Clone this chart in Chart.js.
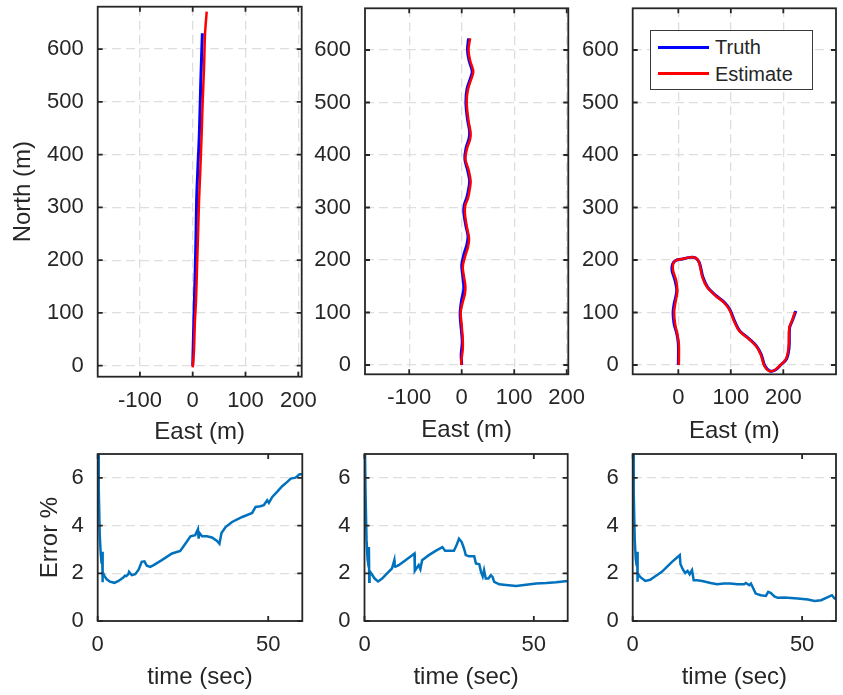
<!DOCTYPE html>
<html>
<head>
<meta charset="utf-8">
<script src="https://cdn.jsdelivr.net/npm/chart.js@4.4.1/dist/chart.umd.min.js"></script>
<style>
  body { margin: 0; width: 843px; height: 695px; background: #fff; position: relative; overflow: hidden;
         font-family: "Liberation Sans", Arial, sans-serif; color: #262626; }
  canvas { position: absolute; }
  #legend { position: absolute; left: 650px; top: 30px; width: 161px; height: 58px;
            border: 1px solid #3a3a3a; background: #fff; z-index: 5; }
  #legend .item { position: absolute; left: 0; height: 26px; width: 160px; font-size: 20px; line-height: 26px; }
  #legend .swatch { position: absolute; left: 7px; width: 51px; }
  #legend .label { position: absolute; left: 64px; top: 0; }
</style>
</head>
<body>
<div id="legend"></div>
<script>
// tick values
const northTicks = [0, 100, 200, 300, 400, 500, 600];
const eastTicks = [-100, 0, 100, 200];
const eastTicksWide = [0, 100, 200];
const timeTicks = [0, 50];
const errorTicks = [0, 2, 4, 6];

// run 1: straight path
const truthEast1 = [0, 1, 3.2, 5, 6.3, 7.6, 10, 12.6, 15.2, 18.3];
const truthNorth1 = [0, 40, 124, 190, 251, 320, 380, 440, 535, 630];
const estEast1 = [0, 2.5, 4, 6.3, 8.8, 10.5, 12, 14, 15.8, 17.5, 19, 21.5, 23.4, 26.5];
const estNorth1 = [-3, 30, 80, 124, 206, 260, 313, 360, 408, 455, 503, 566, 629, 671];

// run 2: weaving path
const truthEast2 = [0, -1, 1, -2, -3, 0, 4, 2, 0, 4, 10, 12, 8, 4, 5, 10, 14, 15, 11, 6, 8, 14, 15, 11, 8, 10, 18, 20, 14, 11, 13];
const truthNorth2 = [0, 20, 45, 80, 100, 125, 145, 170, 190, 210, 230, 245, 265, 290, 305, 320, 340, 352, 372, 392, 412, 432, 445, 468, 500, 525, 550, 560, 580, 600, 622];
const estEast2 = [0, -1, 2, 2, 0, -2, 2, 6, 7, 4, 2, 6, 12, 14, 10, 6, 7, 12, 15, 17, 13, 7, 10, 16, 17, 13, 9.5, 12, 20, 22, 16, 13, 16];
const estNorth2 = [0, 5, 30, 48, 75, 100, 120, 135, 150, 170, 187, 205, 225, 241, 262, 290, 305, 318, 333, 350, 372, 392, 412, 430, 442, 465, 500, 525, 550, 560, 580, 600, 622];

// run 3: loop to the east
const truthEast3 = [0, 0, -3, -8, -10, -8, -3, -6, -12, -11, -5, 8, 24, 33, 40, 47, 56, 72, 88, 98, 107, 117, 136, 149, 158, 165, 174, 184, 196, 206, 211, 212, 217, 224];
const truthNorth3 = [0, 40, 60, 78, 100, 116, 141, 160, 180, 192, 199, 202, 205, 204, 195, 167, 148, 132, 119, 106, 84, 65, 49, 36, 20, -2, -11, -10, 1, 11, 33, 71, 84, 103];
const estEast3 = [1, 1, -2, -6, -8, -6, -2, -4, -10, -10, -5, 7.6, 23.6, 33, 39.5, 46, 55, 71, 87, 97, 106, 116, 135, 148, 157, 164, 173, 183, 195.5, 205, 210, 211.5, 216.5, 222];
const estNorth3 = [0, 39.5, 58.6, 77.7, 100, 116, 141, 160.5, 180, 192, 199, 202, 205, 204, 195.5, 167, 148, 132, 119, 106, 84, 65, 49, 36, 20, -2, -11.5, -10, 1, 11, 33, 71, 84, 101];

// error over time
const time1 = [0.1, 0.3, 0.6, 0.9, 1.15, 1.3, 1.4, 1.5, 2.0, 2.65, 3.6, 4.9, 6.1, 7.5, 8.0, 8.4, 9.0, 9.2, 10.0, 11.0, 12.0, 12.9, 13.7, 14.4, 15.4, 16.4, 18.8, 21.8, 24.2, 25.7, 27.2, 28.6, 29.4, 29.6, 29.8, 30.6, 32.0, 33.5, 35.0, 35.7, 36.3, 37.5, 39.4, 42.4, 45.3, 46.3, 47.7, 48.7, 49.7, 50.2, 51.2, 52.6, 54.1, 55.6, 56.6, 58.0, 59.2, 60];
const error1 = [7.6, 5.6, 3.6, 2.8, 2.4, 2.9, 1.62, 2.05, 1.88, 1.75, 1.65, 1.6, 1.68, 1.82, 1.9, 1.88, 1.97, 2.06, 1.92, 1.96, 2.15, 2.48, 2.5, 2.32, 2.27, 2.34, 2.55, 2.83, 2.94, 3.24, 3.55, 3.6, 3.85, 3.45, 3.7, 3.55, 3.55, 3.5, 3.36, 3.24, 3.69, 3.94, 4.15, 4.36, 4.53, 4.78, 4.81, 4.85, 5.06, 4.95, 5.2, 5.41, 5.65, 5.83, 5.97, 6.01, 6.15, 6.15];
const time2 = [0.1, 0.3, 0.6, 0.9, 1.2, 1.3, 1.4, 1.5, 2.2, 3.0, 4.0, 5.2, 6.6, 8.1, 8.8, 8.9, 9.1, 10.1, 12.1, 14.1, 14.75, 14.85, 15.5, 16.0, 16.5, 17.0, 19.0, 21.0, 23.0, 23.8, 24.9, 26.4, 27.1, 27.9, 28.7, 29.4, 29.9, 30.9, 32.4, 32.9, 33.9, 34.4, 34.9, 35.3, 35.8, 36.6, 37.3, 37.8, 38.3, 39.8, 41.8, 44.8, 47.7, 50.7, 53.7, 56.6, 58.6, 60];
const error2 = [7.6, 5.4, 3.4, 2.6, 2.3, 3.1, 1.64, 2.1, 1.95, 1.78, 1.66, 1.78, 1.99, 2.2, 2.55, 2.3, 2.27, 2.34, 2.55, 2.76, 2.83, 2.1, 2.24, 2.34, 2.17, 2.55, 2.76, 2.94, 3.1, 2.94, 2.94, 2.94, 3.15, 3.45, 3.31, 3.03, 2.76, 2.71, 2.71, 2.41, 2.38, 2.06, 1.87, 2.13, 1.78, 1.78, 1.92, 1.85, 1.64, 1.54, 1.51, 1.47, 1.52, 1.57, 1.59, 1.62, 1.66, 1.68];
const time3 = [0.1, 0.3, 0.6, 0.9, 1.2, 1.3, 1.4, 1.5, 2.2, 3.7, 5.15, 7.1, 8.6, 10.1, 11.6, 13.1, 13.9, 14.1, 14.85, 15.5, 16.2, 16.8, 17.5, 18.0, 19.0, 20.5, 23.0, 24.9, 26.9, 28.9, 30.9, 32.9, 33.4, 34.4, 34.9, 35.6, 36.3, 37.8, 39.3, 40.0, 40.8, 41.8, 42.8, 44.8, 48.7, 51.7, 53.7, 55.6, 57.6, 58.8, 59.6, 60];
const error3 = [7.6, 5.4, 3.4, 2.6, 2.3, 2.9, 1.64, 2.0, 1.85, 1.68, 1.73, 1.92, 2.06, 2.27, 2.48, 2.66, 2.76, 2.38, 2.15, 2.01, 2.1, 1.96, 2.13, 1.71, 1.71, 1.68, 1.59, 1.54, 1.57, 1.57, 1.54, 1.54, 1.59, 1.5, 1.57, 1.36, 1.15, 1.08, 1.05, 1.22, 1.17, 1.03, 0.97, 0.98, 0.94, 0.9, 0.84, 0.87, 1.0, 1.08, 0.94, 0.94];

const ink = '#262626';
const fontFamily = '"Liberation Sans", Arial, sans-serif';
Chart.defaults.font.family = fontFamily;
Chart.defaults.color = ink;

function points(xs, ys) {
  return xs.map((x, i) => ({x: x, y: ys[i]}));
}

// box around the plot area with inward tick marks on all four sides
const framePlugin = {
  id: 'frame',
  afterDatasetsDraw(chart) {
    const ctx = chart.ctx, a = chart.chartArea, sx = chart.scales.x, sy = chart.scales.y;
    const len = 5;
    ctx.save();
    ctx.strokeStyle = ink;
    ctx.lineWidth = 1.8;
    ctx.beginPath();
    sx.ticks.forEach(t => {
      const px = sx.getPixelForValue(t.value);
      ctx.moveTo(px, a.bottom); ctx.lineTo(px, a.bottom - len);
      ctx.moveTo(px, a.top); ctx.lineTo(px, a.top + len);
    });
    sy.ticks.forEach(t => {
      const py = sy.getPixelForValue(t.value);
      ctx.moveTo(a.left, py); ctx.lineTo(a.left + len, py);
      ctx.moveTo(a.right, py); ctx.lineTo(a.right - len, py);
    });
    ctx.stroke();
    ctx.strokeRect(a.left, a.top, a.right - a.left, a.bottom - a.top);
    ctx.restore();
  }
};

function axis(o) {
  const horizontal = o.horizontal;
  return {
    type: 'linear',
    min: o.min,
    max: o.max,
    afterBuildTicks: s => { s.ticks = o.ticks.map(v => ({value: v})); },
    afterFit: s => {
      if (horizontal) { s.height = o.size; s.paddingLeft = 0; s.paddingRight = 0; }
      else { s.width = o.size; s.paddingTop = 0; s.paddingBottom = 0; }
    },
    grid: { display: o.grid, color: '#dedede', lineWidth: 1.3, drawTicks: false },
    border: { display: false, dash: [9, 5] },
    ticks: { padding: horizontal ? 10.6 : 14, autoSkip: false, maxRotation: 0,
             font: { size: 22 }, color: ink },
    title: { display: !!o.title, text: o.title || '', color: ink, font: { size: 24 },
             padding: horizontal ? { top: 0, bottom: o.titlePad } : { top: o.titlePad, bottom: 0 } }
  };
}

// one subplot on its own canvas, plot area placed at box
function panel(box, cfg) {
  const cv = document.createElement('canvas');
  const left = Math.floor(box.l - cfg.padL);
  const top = Math.floor(box.t - 6);
  const width = Math.min(843, Math.ceil(box.r + 30)) - left;
  const height = Math.ceil(box.b + cfg.padB) - top;
  cv.width = width; cv.height = height;
  cv.style.left = left + 'px'; cv.style.top = top + 'px';
  cv.style.width = width + 'px'; cv.style.height = height + 'px';
  document.body.appendChild(cv);

  const half = 24 * 1.2 / 2;
  const xTitlePad = top + height - cfg.xTitleY - half;
  const yTitlePad = cfg.yTitle ? cfg.yTitleX - left - half : 0;

  return new Chart(cv, {
    type: 'scatter',
    data: { datasets: cfg.datasets },
    options: {
      responsive: false,
      animation: false,
      devicePixelRatio: 1,
      layout: { padding: { left: 0, top: box.t - top, right: left + width - box.r, bottom: 0 } },
      plugins: { legend: { display: false }, tooltip: { enabled: false } },
      scales: {
        x: axis({ horizontal: true, min: cfg.x[0], max: cfg.x[1], ticks: cfg.xTicks, grid: cfg.xGrid,
                  size: top + height - box.b, title: cfg.xTitle, titlePad: xTitlePad }),
        y: axis({ horizontal: false, min: cfg.y[0], max: cfg.y[1], ticks: cfg.yTicks, grid: true,
                  size: box.l - left, title: cfg.yTitle, titlePad: yTitlePad })
      }
    },
    plugins: [framePlugin]
  });
}

function trackSets(tE, tN, eE, eN) {
  return [
    { label: 'Truth', data: points(tE, tN), showLine: true, pointRadius: 0, borderColor: '#0000ff',
      borderWidth: 3, tension: 0.35, order: 1 },
    { label: 'Estimate', data: points(eE, eN), showLine: true, pointRadius: 0, borderColor: '#ff0000',
      borderWidth: 2.5, tension: 0.35, order: 0 }
  ];
}

function errorSet(t, e) {
  return [{ label: 'Error', data: points(t, e), showLine: true, pointRadius: 0, borderColor: '#0072bd',
            borderWidth: 2.5, tension: 0 }];
}

panel({ l: 97.7, r: 301.7, t: 6.7, b: 376.7 }, {
  padL: 98, padB: 76, x: [-180, 206.5], y: [-20.8, 680.2], xTicks: eastTicks, yTicks: northTicks, xGrid: true,
  xTitle: 'East (m)', xTitleY: 432, yTitle: 'North (m)', yTitleX: 23.3,
  datasets: trackSets(truthEast1, truthNorth1, estEast1, estNorth1)
});
panel({ l: 365, r: 568.3, t: 8.3, b: 374.3 }, {
  padL: 60, padB: 76, x: [-184.2, 203], y: [-17.7, 679.4], xTicks: eastTicks, yTicks: northTicks, xGrid: true,
  xTitle: 'East (m)', xTitleY: 430,
  datasets: trackSets(truthEast2, truthNorth2, estEast2, estNorth2)
});
const loopChart = panel({ l: 632.7, r: 836, t: 8.3, b: 374.3 }, {
  padL: 60, padB: 76, x: [-86.9, 300.4], y: [-17.7, 679.4], xTicks: eastTicksWide, yTicks: northTicks, xGrid: true,
  xTitle: 'East (m)', xTitleY: 431,
  datasets: trackSets(truthEast3, truthNorth3, estEast3, estNorth3)
});

panel({ l: 97.7, r: 302.3, t: 454, b: 621 }, {
  padL: 98, padB: 74, x: [0, 60], y: [0, 7], xTicks: timeTicks, yTicks: errorTicks, xGrid: false,
  xTitle: 'time (sec)', xTitleY: 677, yTitle: 'Error %', yTitleX: 50,
  datasets: errorSet(time1, error1)
});
panel({ l: 364.5, r: 567.7, t: 454, b: 621 }, {
  padL: 60, padB: 74, x: [0, 60], y: [0, 7], xTicks: timeTicks, yTicks: errorTicks, xGrid: false,
  xTitle: 'time (sec)', xTitleY: 677,
  datasets: errorSet(time2, error2)
});
panel({ l: 632.7, r: 836, t: 454, b: 621 }, {
  padL: 60, padB: 74, x: [0, 60], y: [0, 7], xTicks: timeTicks, yTicks: errorTicks, xGrid: false,
  xTitle: 'time (sec)', xTitleY: 677,
  datasets: errorSet(time3, error3)
});

// legend built from the loop chart's datasets
const legend = document.getElementById('legend');
loopChart.data.datasets.forEach((ds, i) => {
  const item = document.createElement('div');
  item.className = 'item';
  item.style.top = (3 + i * 26.6) + 'px';
  const sw = document.createElement('div');
  sw.className = 'swatch';
  sw.style.top = (13 - ds.borderWidth / 2) + 'px';
  sw.style.height = ds.borderWidth + 'px';
  sw.style.background = ds.borderColor;
  const lb = document.createElement('span');
  lb.className = 'label';
  lb.textContent = ds.label;
  item.appendChild(sw);
  item.appendChild(lb);
  legend.appendChild(item);
});
</script>
</body>
</html>
